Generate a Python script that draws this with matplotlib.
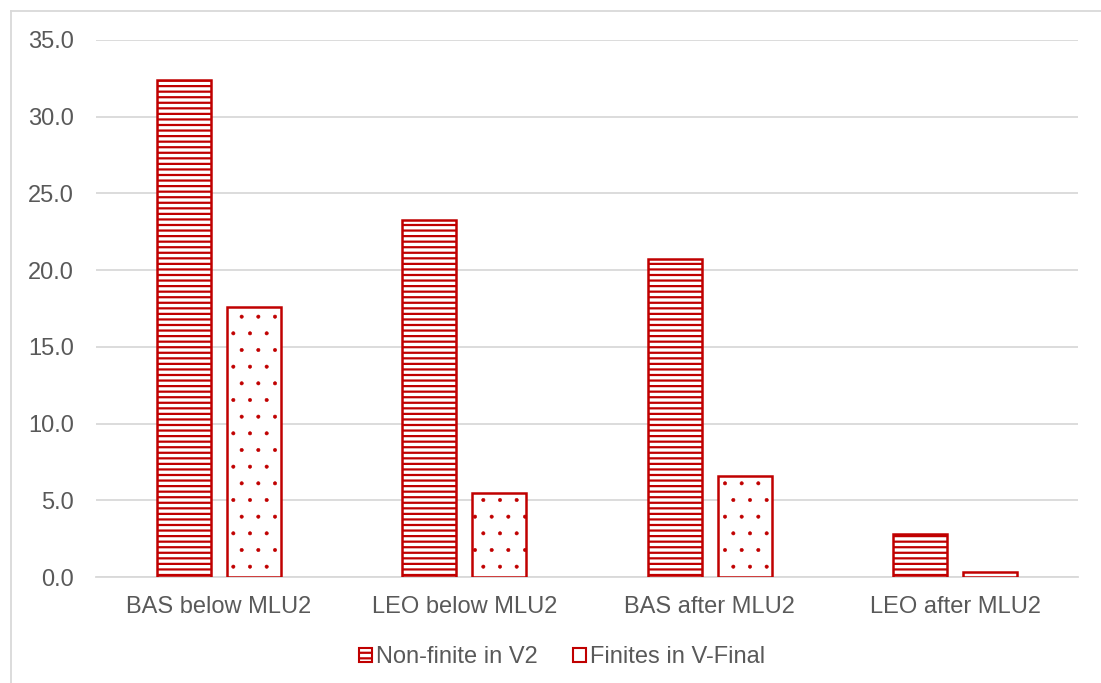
import numpy as np
import matplotlib.pyplot as plt
from matplotlib.lines import Line2D
from matplotlib.patches import Patch

plt.rcParams['font.family'] = ['Liberation Sans', 'DejaVu Sans']
plt.rcParams['hatch.linewidth'] = 1.6
plt.rcParams['hatch.color'] = '#C00000'

categories = ['BAS below MLU2', 'LEO below MLU2', 'BAS after MLU2', 'LEO after MLU2']
non_finite_v2 = [32.4, 23.3, 20.7, 2.8]
finites_vfinal = [17.6, 5.5, 6.6, 0.3]
series_names = ['Non-finite in V2', 'Finites in V-Final']

RED = '#C00000'
GREY_TXT = '#595959'
GRID = '#D9D9D9'
FS = 17

fig = plt.figure(figsize=(11.01, 6.83), dpi=100)
ax = fig.add_axes([96 / 1101, 106 / 683, 982 / 1101, 537 / 683])

x = np.arange(len(categories))
w = 0.22
off = 0.143
ax.bar(x - off, non_finite_v2, w, facecolor='white', edgecolor=RED,
       linewidth=1.8, hatch='---', zorder=3)
# thinner hatch stroke so the dots stay small
with plt.rc_context({'hatch.linewidth': 0.4}):
    ax.bar(x + off, finites_vfinal, w, facecolor='white', edgecolor=RED,
           linewidth=1.8, hatch='.', zorder=3)

ax.set_xlim(-0.5, 3.5)
ax.set_ylim(0, 35)
ax.set_yticks(np.arange(0, 36, 5))
ax.set_yticklabels([f'{v:.1f}' for v in np.arange(0, 36, 5)])
ax.set_xticks(x)
ax.set_xticklabels(categories)
ax.tick_params(axis='both', length=0, labelsize=FS, colors=GREY_TXT)
ax.tick_params(axis='x', pad=14)
ax.tick_params(axis='y', pad=16)
ax.yaxis.grid(True, color=GRID, linewidth=1.3, zorder=0)
for s in ['top', 'right', 'left']:
    ax.spines[s].set_visible(False)
ax.spines['bottom'].set_color(GRID)
ax.spines['bottom'].set_linewidth(1.3)

handles = [Patch(facecolor='white', edgecolor=RED, hatch='---', linewidth=1.5),
           Patch(facecolor='white', edgecolor=RED, linewidth=1.5)]
leg = fig.legend(handles, series_names, loc='center', bbox_to_anchor=(562 / 1101, 26 / 683),
                 ncol=2, frameon=False, fontsize=FS, handlelength=0.55, handleheight=0.55,
                 handletextpad=0.15, columnspacing=1.5)
for t in leg.get_texts():
    t.set_color(GREY_TXT)

# chart area border (left and top edges)
fig.add_artist(Line2D([11 / 1101, 11 / 1101], [0, 1 - 11 / 683], transform=fig.transFigure,
                      color=GRID, linewidth=1.3))
fig.add_artist(Line2D([11 / 1101, 1], [1 - 11 / 683, 1 - 11 / 683], transform=fig.transFigure,
                      color=GRID, linewidth=1.3))

fig.savefig('out.png', dpi=100, facecolor='white')
